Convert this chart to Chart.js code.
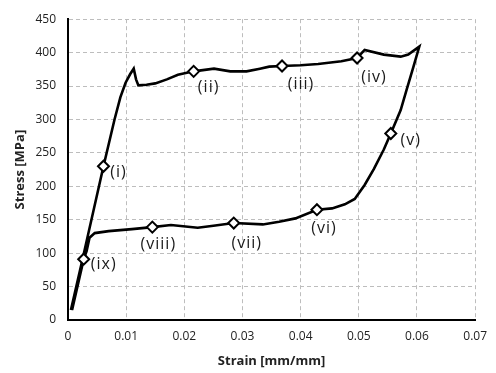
<!DOCTYPE html>
<html>
<head>
<meta charset="utf-8">
<script src="https://cdn.jsdelivr.net/npm/chart.js@4"></script>
<style>
  html, body { margin: 0; padding: 0; background: #fff; }
  #wrap { width: 496px; height: 373px; }
</style>
</head>
<body>
<div id="wrap"><canvas id="loopChart"></canvas></div>
<script>
// Curve in path order (loading, plateau, unloading, lower plateau, back down)
const strain = [0.0005, 0.0025, 0.0061, 0.0080, 0.0090, 0.0099, 0.0107, 0.0113, 0.0117, 0.0121, 0.0135, 0.015, 0.0170, 0.0189, 0.0216, 0.0251, 0.0279, 0.0307, 0.0330, 0.0346, 0.0368, 0.0400, 0.0430, 0.0470, 0.0497, 0.0510, 0.0543, 0.0572, 0.0585, 0.0604,
                0.0594, 0.0582, 0.0572, 0.0555, 0.0543, 0.0526, 0.0510, 0.0493, 0.0476, 0.0454, 0.0428, 0.0391, 0.0363, 0.0335, 0.0285, 0.0250, 0.0223, 0.0177, 0.0145, 0.0110, 0.0070, 0.0046, 0.0037, 0.0032, 0.0027, 0.0007];
const stress = [15, 91, 230, 300, 333, 355, 368, 376, 360, 351, 352, 354, 360, 367, 372, 376, 372, 372, 376, 379, 380, 381, 383, 387, 392, 404, 397, 394, 397, 409,
                379, 344, 314, 279, 255, 226, 202, 181, 173, 167, 165, 152, 147, 143, 145, 141, 138, 142, 139, 136, 133, 130, 123, 103, 91, 15];

// Labelled points
const markerStrain = [0.0061, 0.0216, 0.0368, 0.0497, 0.0555, 0.0428, 0.0285, 0.0145, 0.0027];
const markerStress = [230, 372, 380, 392, 279, 165, 145, 139, 91];
const markerLabels = ['(i)', '(ii)', '(iii)', '(iv)', '(v)', '(vi)', '(vii)', '(viii)', '(ix)'];

// Axis ticks
const xTickLabels = ['0', '0.01', '0.02', '0.03', '0.04', '0.05', '0.06', '0.07'];
const yTickLabels = ['0', '50', '100', '150', '200', '250', '300', '350', '400', '450'];

// pixel offset of each label from its marker
const labelOffsets = [[15, 6], [15, 16], [19, 18], [17, 19], [20, 7], [7, 19], [13, 20], [6, 17], [20, 5]];

const FONT = "'Open Sans', sans-serif";

const pointLabels = {
    id: 'pointLabels',
    afterDatasetsDraw(chart) {
        const ctx = chart.ctx;
        const xs = chart.scales.x, ys = chart.scales.y;
        ctx.save();
        ctx.font = '16px ' + FONT;
        ctx.fillStyle = '#1a1a1a';
        ctx.textAlign = 'center';
        ctx.textBaseline = 'middle';
        ctx.letterSpacing = '1px';
        markerLabels.forEach((txt, i) => {
            const px = xs.getPixelForValue(markerStrain[i]) + labelOffsets[i][0];
            const py = ys.getPixelForValue(markerStress[i]) + labelOffsets[i][1];
            ctx.fillText(txt, px, py);
        });
        ctx.restore();
    }
};

const ctx = document.getElementById('loopChart').getContext('2d');
new Chart(ctx, {
    type: 'scatter',
    data: {
        datasets: [
            {
                data: markerStrain.map((x, i) => ({ x: x, y: markerStress[i] })),
                pointStyle: 'rectRot',
                pointRadius: 5.5,
                pointBackgroundColor: '#fff',
                pointBorderColor: '#000',
                pointBorderWidth: 2,
                showLine: false,
                order: 0
            },
            {
                data: strain.map((x, i) => ({ x: x, y: stress[i] })),
                showLine: true,
                borderColor: '#000',
                borderWidth: 2.6,
                pointRadius: 0,
                tension: 0,
                order: 1
            }
        ]
    },
    options: {
        responsive: true,
        maintainAspectRatio: false,
        animation: false,
        events: [],
        layout: { padding: { top: 15, right: 13, left: 8, bottom: 0 } },
        plugins: { legend: { display: false }, tooltip: { enabled: false } },
        scales: {
            x: {
                type: 'linear',
                min: 0, max: 0.07,
                afterFit: s => { s.height = 53; },
                ticks: {
                    stepSize: 0.01,
                    padding: 9,
                    color: '#222',
                    font: { family: FONT, size: 12 },
                    callback: (v, i) => xTickLabels[i]
                },
                grid: { color: '#bdbdbd', lineWidth: 1, drawTicks: false },
                border: { display: true, color: '#000', width: 2, dash: [4, 3] },
                title: {
                    display: true,
                    text: 'Strain [mm/mm]',
                    color: '#222',
                    font: { family: FONT, size: 13, weight: 'bold' },
                    padding: { top: 4, bottom: 4 }
                }
            },
            y: {
                min: 0, max: 450,
                afterFit: s => { s.width = 60; },
                ticks: {
                    stepSize: 50,
                    padding: 12,
                    color: '#222',
                    font: { family: FONT, size: 12 },
                    callback: (v, i) => yTickLabels[i]
                },
                grid: { color: '#bdbdbd', lineWidth: 1, drawTicks: false },
                border: { display: true, color: '#000', width: 2, dash: [4, 3] },
                title: {
                    display: true,
                    text: 'Stress [MPa]',
                    color: '#222',
                    font: { family: FONT, size: 13, weight: 'bold' },
                    padding: { top: 4, bottom: 4 }
                }
            }
        }
    },
    plugins: [pointLabels]
});
</script>
</body>
</html>
